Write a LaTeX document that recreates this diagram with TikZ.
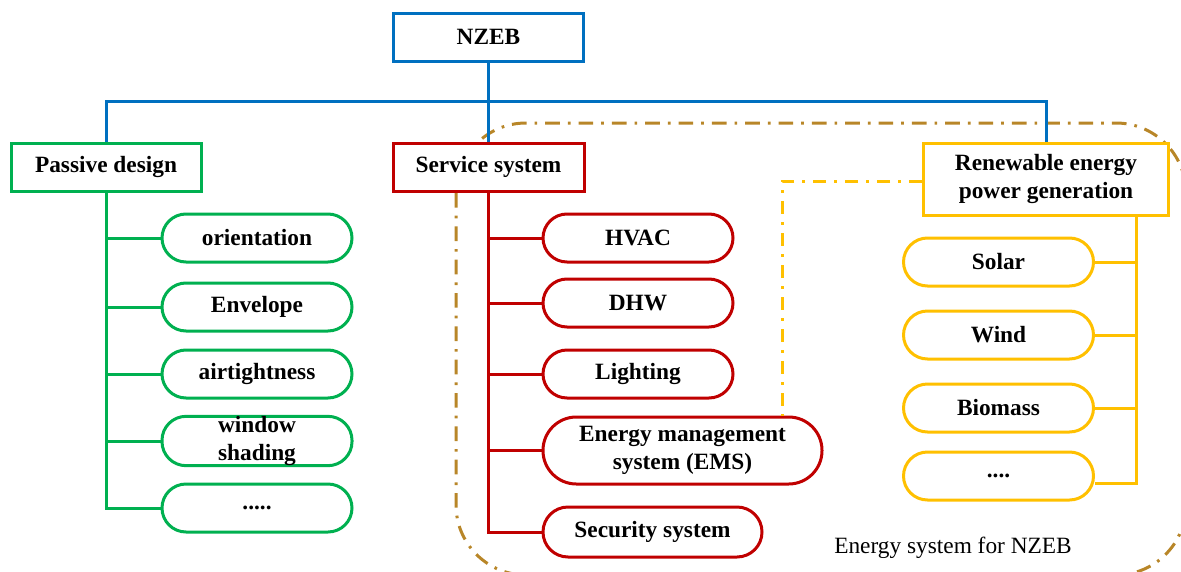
\documentclass[tikz,border=0pt]{standalone}
\usepackage{fontspec}
\setmainfont{Liberation Serif}
\definecolor{cblue}{RGB}{0,112,192}
\definecolor{cgreen}{RGB}{0,176,80}
\definecolor{cred}{RGB}{192,0,0}
\definecolor{cyellow}{RGB}{255,192,0}
\definecolor{cbrown}{RGB}{184,134,40}
\tikzset{
  base/.style={line width=2.25pt, fill=white, inner sep=0pt, align=center,
    font=\fontsize{17.5}{21}\selectfont\bfseries},
  headbox/.style={base, minimum width=142.5pt, minimum height=36pt},
  pill/.style={base, rounded corners=18pt, minimum width=142.5pt, minimum height=36pt},
  link/.style={line width=2.25pt},
  dashdot/.style={line width=2.25pt, dash pattern=on 11pt off 6pt on 2pt off 6pt}
}
\begin{document}
\begin{tikzpicture}[x=0.75pt,y=-0.75pt]
\useasboundingbox (0,0) rectangle (1181,571);
\clip (0,0) rectangle (1181,571);
% energy system frame
\draw[dashdot, draw=cbrown, rounded corners=52.5pt] (456,123) rectangle (1186,575);
% top level
\node[headbox, draw=cblue] (nzeb) at (488.5,37) {NZEB};
\node[headbox, draw=cgreen] (passive) at (106,167) {Passive design};
\node[headbox, draw=cred, minimum width=143.25pt] (service) at (488.5,167) {Service system};
\node[headbox, draw=cyellow, minimum width=183.75pt, minimum height=54pt] (renew) at (1046,179) {Renewable energy\\power generation};
\coordinate (bus) at (488.5,101);
\draw[link, draw=cblue] (nzeb.south) -- (service.north);
\draw[link, draw=cblue] (passive.north) |- (bus) -| (renew.north);
% passive design
\node[pill, draw=cgreen] (p1) at (257,238) {orientation};
\node[pill, draw=cgreen] (p2) at (257,307) {Envelope};
\node[pill, draw=cgreen] (p3) at (257,374) {airtightness};
\node[pill, draw=cgreen] (p4) at (257,441) {window\\shading};
\node[pill, draw=cgreen] (p5) at (257,508) {.....};
\draw[link, draw=cgreen] (passive.south) -- (passive.south |- p5.west) -- (p5.west);
\foreach \k in {p1,p2,p3,p4}
  \draw[link, draw=cgreen] (passive.south |- \k.west) -- (\k.west);
% service system
\node[pill, draw=cred] (s1) at (638,238) {HVAC};
\node[pill, draw=cred] (s2) at (638,303) {DHW};
\node[pill, draw=cred] (s3) at (638,374) {Lighting};
\node[pill, draw=cred, minimum width=209.25pt, minimum height=50.25pt, rounded corners=25pt] (s4) at (682.5,450.5) {Energy management\\system (EMS)};
\node[pill, draw=cred, minimum width=164.25pt, minimum height=37.5pt, rounded corners=18.75pt] (s5) at (652.5,532) {Security system};
\draw[link, draw=cred] (service.south) -- (service.south |- s5.west) -- (s5.west);
\foreach \k in {s1,s2,s3,s4}
  \draw[link, draw=cred] (service.south |- \k.west) -- (\k.west);
% renewable energy
\node[pill, draw=cyellow] (r1) at (998.5,262) {Solar};
\node[pill, draw=cyellow] (r2) at (998.5,335) {Wind};
\node[pill, draw=cyellow] (r3) at (998.5,408) {Biomass};
\node[pill, draw=cyellow] (r4) at (998.5,476) {....};
\coordinate (ytop) at (1136,215);
\coordinate (ybot) at (1136,483);
\draw[link, draw=cyellow] (ytop) -- (ybot) -- (ybot -| r4.east);
\foreach \k in {r1,r2,r3}
  \draw[link, draw=cyellow] (ytop |- \k.east) -- (\k.east);
% EMS link to renewable
\coordinate (yc) at (782,181);
\draw[dashdot, draw=cyellow, dash pattern=on 10pt off 6pt on 2pt off 6pt] (renew.west |- yc) -- (yc) -- (yc |- s4.north);
% caption
\node[font=\fontsize{17.5}{21}\selectfont, inner sep=0pt] (cap) at (953,548) {Energy system for NZEB};
\end{tikzpicture}
\end{document}
